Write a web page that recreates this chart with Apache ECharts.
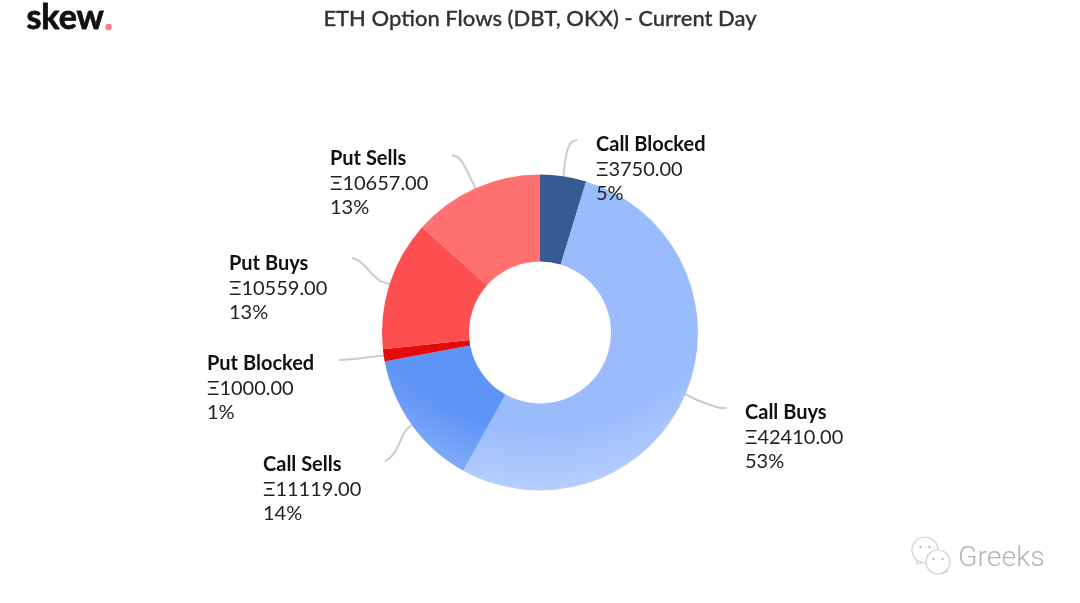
<!DOCTYPE html>
<html><head><meta charset="utf-8">
<style>html,body{margin:0;padding:0;background:#fff}#c{width:1080px;height:603px}</style>
<script src="https://cdn.jsdelivr.net/npm/echarts@6/dist/echarts.min.js"></script>
</head><body><div id="c"></div>
<script>
const categories = ['Call Blocked','Call Buys','Call Sells','Put Blocked','Put Buys','Put Sells'];
const flowValues = [3750,42410,11119,1000,10559,10657];
const titleText = 'ETH Option Flows (DBT, OKX) - Current Day';
const currencySymbol = 'Ξ';

const total = flowValues.reduce((a,b)=>a+b,0);
const blue = (c0,c1)=> new echarts.graphic.RadialGradient(540,225,265,[
  {offset:0,color:c0},{offset:0.77,color:c0},{offset:1,color:c1}],true);
const sliceColors = [
  '#375a92', blue('#9abbfc','#b6cefe'), blue('#5e94f5','#86aff8'),
  '#e30b0b','#fd4f4f','#ff7071'
];
// label box top-left, and the guide line bends after leaving each slice
const labelPlace = {
  'Call Blocked':{x:596,y:132.5,line:[[565,162],[567,151],[570,144],[573,141],[577,140]]},
  'Call Buys':{x:745,y:400.5,line:[[697,400],[710,405],[720,408],[727,408]]},
  'Call Sells':{x:263,y:452.5,line:[[407,429],[403,435],[399,444],[395,452],[390,458],[385,461]]},
  'Put Blocked':{x:207,y:351.5,line:[[370,357],[355,359],[339,360]]},
  'Put Buys':{x:229,y:251.5,line:[[380,281],[372,274],[365,266],[358,260],[352,258]]},
  'Put Sells':{x:330,y:146.5,line:[[468,173],[463,163],[458,157],[452,155]]}
};

const watermarkStroke = '#cfcfcf';
const bubble = (cx,cy,r,tail)=>[
  {type:'circle',shape:{cx,cy,r},style:{fill:'#fff',stroke:watermarkStroke,lineWidth:1.2}},
  {type:'polyline',shape:{points:tail},style:{fill:'none',stroke:watermarkStroke,lineWidth:1.2}},
  {type:'circle',shape:{cx:cx-4.5,cy:cy-3,r:1.2},style:{fill:'#bbb'}},
  {type:'circle',shape:{cx:cx+4.5,cy:cy-3,r:1.2},style:{fill:'#bbb'}}
];

const chart = echarts.init(document.getElementById('c'),null,{renderer:'canvas'});
chart.setOption({
  backgroundColor:'#fff',
  animation:false,
  title:{text:titleText,left:'center',top:3,
    textStyle:{fontFamily:'Lato',fontSize:22,fontWeight:500,color:'#333',textBorderColor:'#333',textBorderWidth:0.3}},
  graphic:[
    {type:'text',left:26,top:1,style:{text:'skew',fontFamily:'Lato',fontWeight:'bold',fontSize:34,fill:'#111',stroke:'#111',lineWidth:0.8}},
    {type:'circle',shape:{cx:108.5,cy:27,r:3.2},style:{fill:'#ff7b80'}},
    {type:'text',left:958,top:544,style:{text:'Greeks',fontFamily:'Roboto',fontWeight:300,fontSize:28.5,fill:'#b4b4b4'}},
    ...bubble(925,550,13,[[916,560],[917,564],[923,562]]),
    ...bubble(938,562,12,[[942,573],[947,572],[946,569]])
  ],
  series:[{
    type:'pie',
    center:[540,332.5],
    radius:[71,158],
    startAngle:90,
    clockwise:true,
    avoidLabelOverlap:false,
    percentPrecision:2,
    data:categories.map((n,i)=>({name:n,value:flowValues[i],itemStyle:{color:sliceColors[i]}})),
    label:{
      show:true,
      formatter:p=>`{n|${p.name}}\n{v|${currencySymbol}${p.value.toFixed(2)}}\n{v|${Math.round(p.value/total*100)}%}`,
      rich:{
        n:{fontFamily:'Lato',fontSize:20,fontWeight:'bold',color:'#111',lineHeight:24.5,align:'left'},
        v:{fontFamily:'Lato',fontSize:20,color:'#222',lineHeight:24.5,align:'left'}
      }
    },
    labelLine:{show:true,lineStyle:{color:'#cccccc',width:2,join:'round'}},
    labelLayout:p=>{
      const place = labelPlace[categories[p.dataIndex]];
      const start = p.labelLinePoints ? p.labelLinePoints[0] : place.line[0];
      return {x:place.x,y:place.y,align:'left',verticalAlign:'top',
        labelLinePoints:[start].concat(place.line)};
    }
  }]
});
</script></body></html>
